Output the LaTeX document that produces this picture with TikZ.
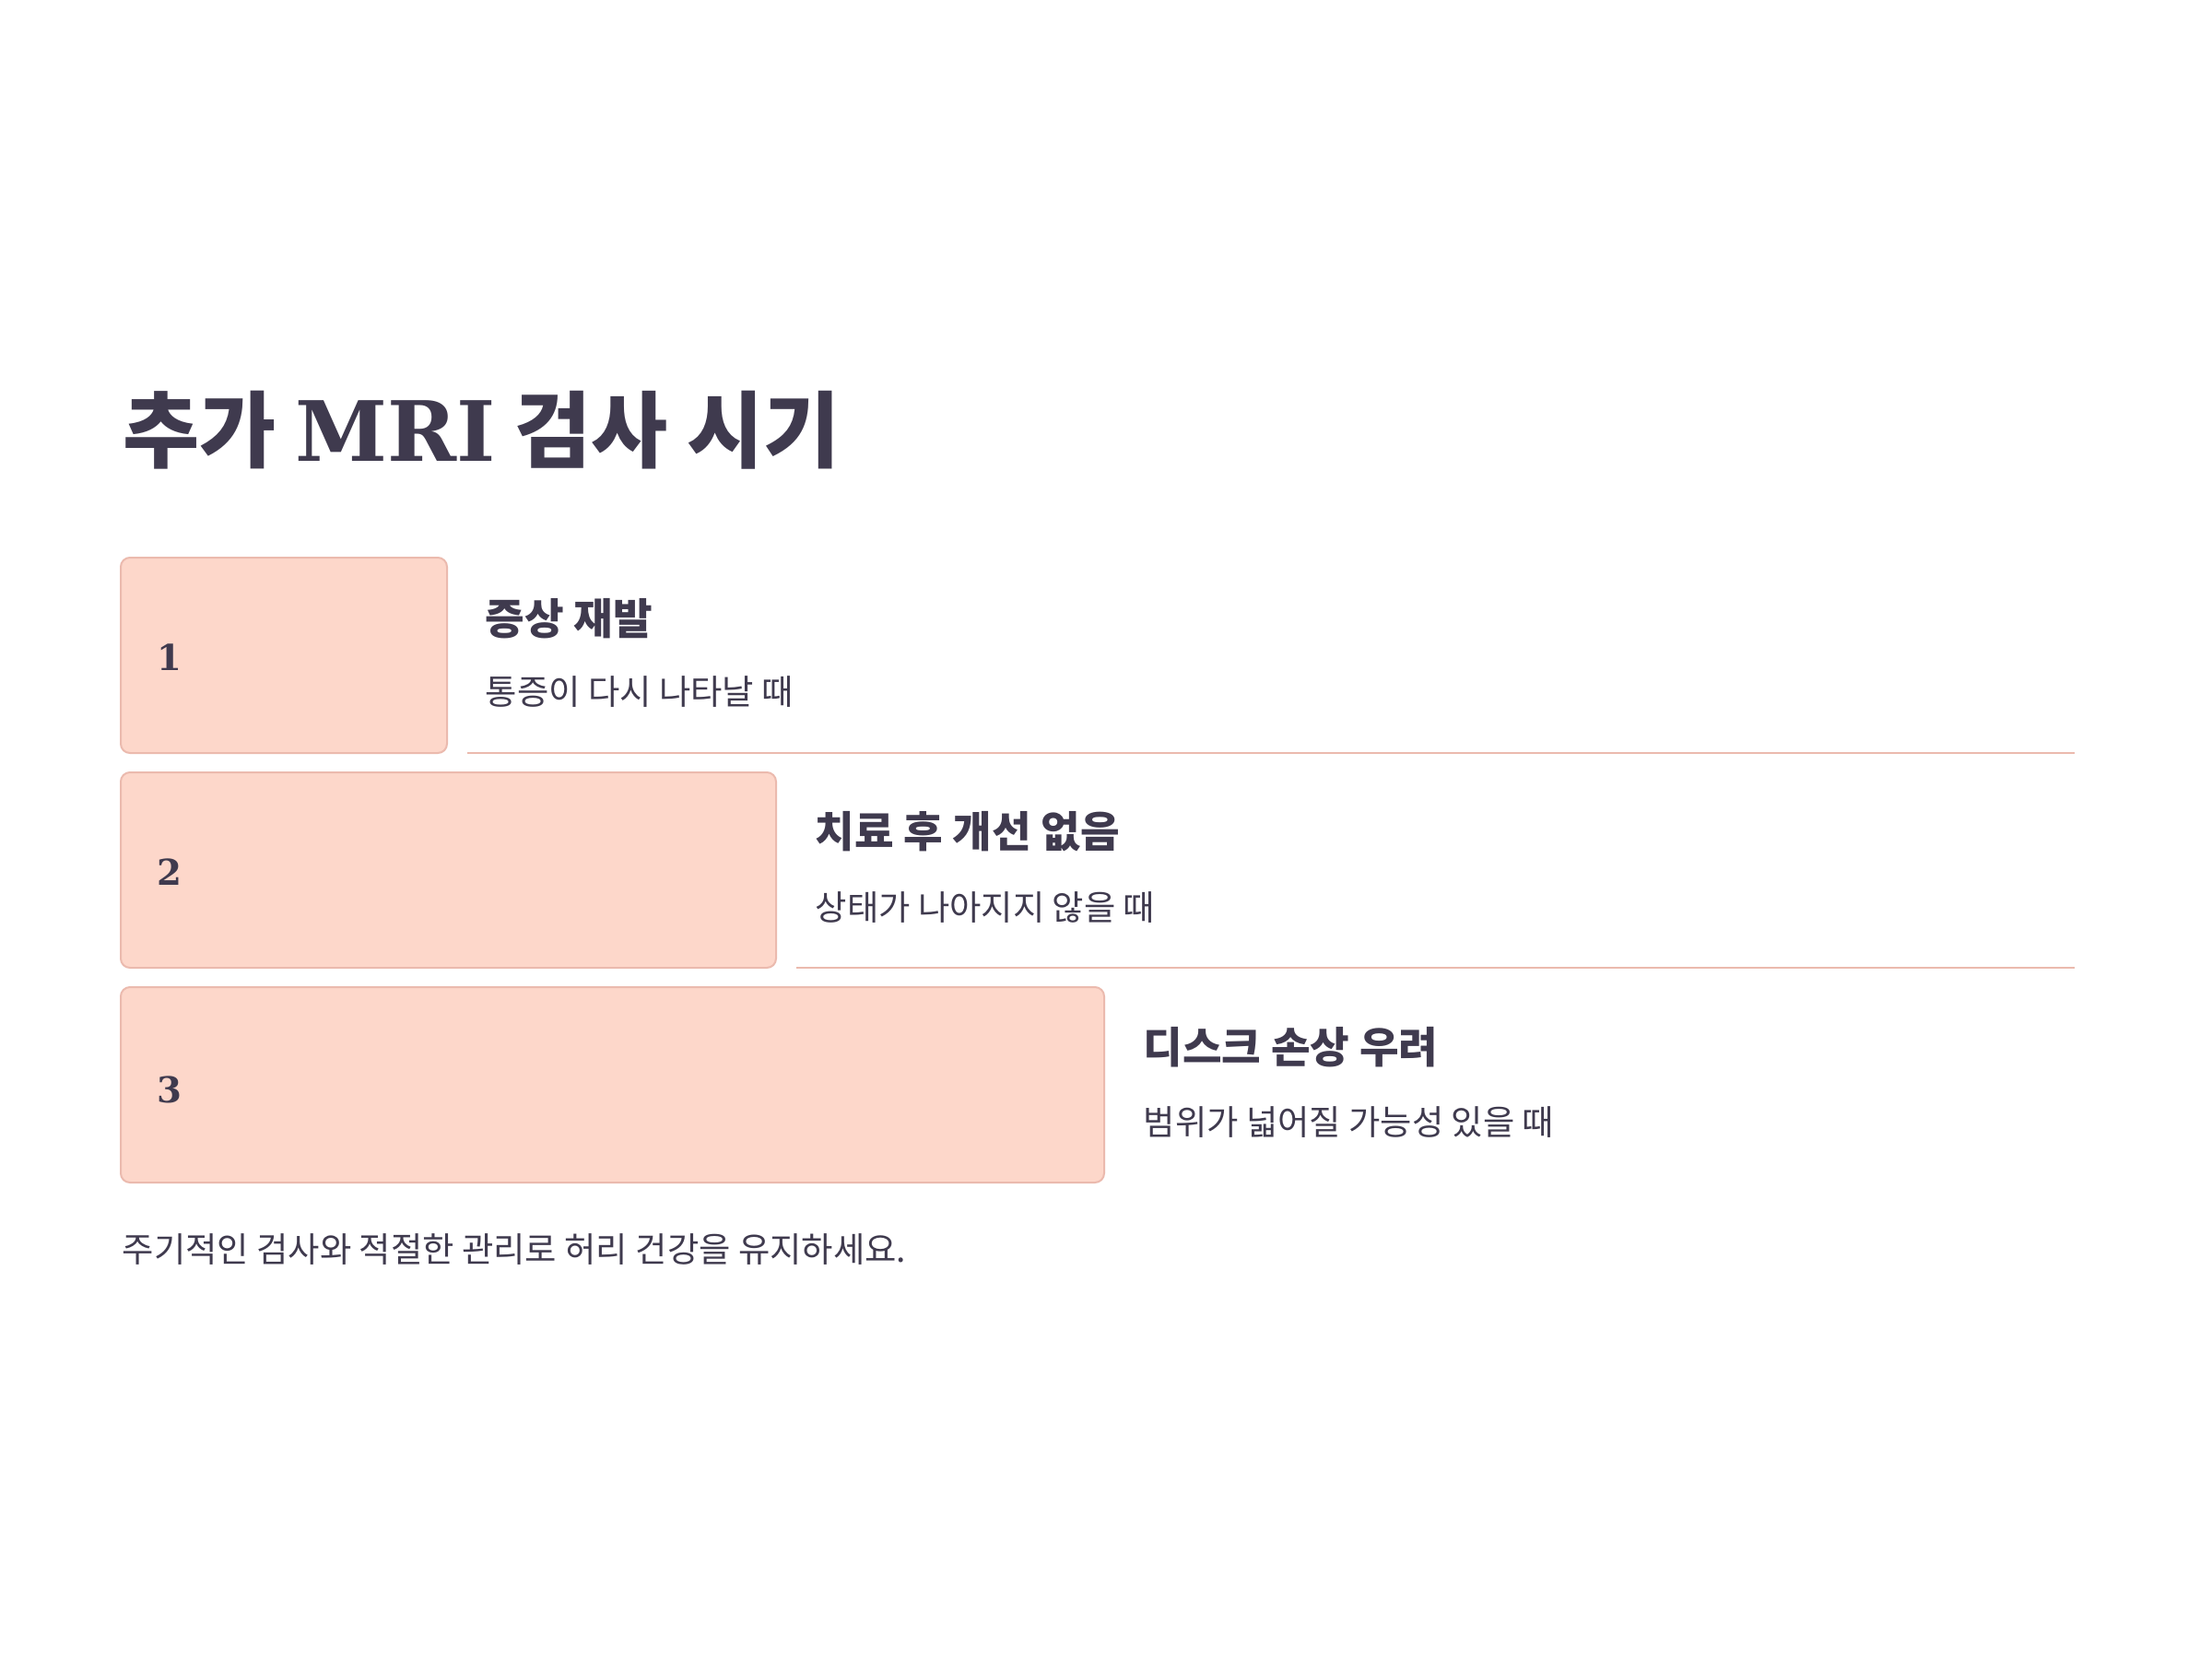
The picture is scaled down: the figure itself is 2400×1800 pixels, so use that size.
\documentclass[tikz,border=0pt]{standalone}
\usepackage{fontspec}
\newfontfamily\cjk{Noto Sans CJK KR}
\newfontfamily\serifb{DejaVu Serif}
\definecolor{ink}{HTML}{3F3A4E}
\definecolor{boxfill}{HTML}{FDD7CA}
\definecolor{boxline}{HTML}{EBBAAE}
\begin{document}
\begin{tikzpicture}[x=0.3pt,y=-0.3pt,
  stepbox/.style={draw=boxline, fill=boxfill, line width=0.6pt, rounded corners=3pt, inner sep=0pt, minimum height=212*0.3pt},
  num/.style={anchor=west, inner sep=0pt, text=ink, font=\serifb\bfseries\fontsize{11.6}{13}\selectfont},
  head/.style={anchor=west, inner sep=0pt, text=ink, font=\cjk\bfseries\fontsize{13.9}{16}\selectfont},
  sub/.style={anchor=west, inner sep=0pt, text=ink, font=\cjk\fontsize{11.2}{13}\selectfont},
  sep/.style={draw=boxline, line width=0.5pt}]
\useasboundingbox (0,0) rectangle (2400,1800);
\fill[white] (0,0) rectangle (2400,1800);

\node[anchor=west, inner sep=0pt, text=ink, font=\cjk\bfseries\fontsize{27.1}{30}\selectfont] (title) at (133,467) {추가 {\serifb MRI} 검사 시기};

\node[stepbox, minimum width=354*0.3pt] (b1) at (308,711) {};
\node[num] (n1) at (170,713) {1};
\node[head] (h1) at (526,671) {증상 재발};
\node[sub] (s1) at (526,751) {통증이 다시 나타날 때};
\coordinate (l1a) at (507,817);
\coordinate (l1b) at (2251,817);
\draw[sep] (l1a) -- (l1b);

\node[stepbox, minimum width=711*0.3pt] (b2) at (486.5,944) {};
\node[num] (n2) at (170,946) {2};
\node[head] (h2) at (884,902) {치료 후 개선 없음};
\node[sub] (s2) at (884,985) {상태가 나아지지 않을 때};
\coordinate (l2a) at (864,1050);
\coordinate (l2b) at (2251,1050);
\draw[sep] (l2a) -- (l2b);

\node[stepbox, minimum width=1067*0.3pt] (b3) at (664.5,1177) {};
\node[num] (n3) at (170,1182) {3};
\node[head] (h3) at (1240,1136) {디스크 손상 우려};
\node[sub] (s3) at (1240,1218) {범위가 넓어질 가능성 있을 때};

\node[anchor=west, inner sep=0pt, text=ink, font=\cjk\fontsize{11.2}{13}\selectfont] (foot) at (132,1356) {주기적인 검사와 적절한 관리로 허리 건강을 유지하세요.};
\end{tikzpicture}
\end{document}
